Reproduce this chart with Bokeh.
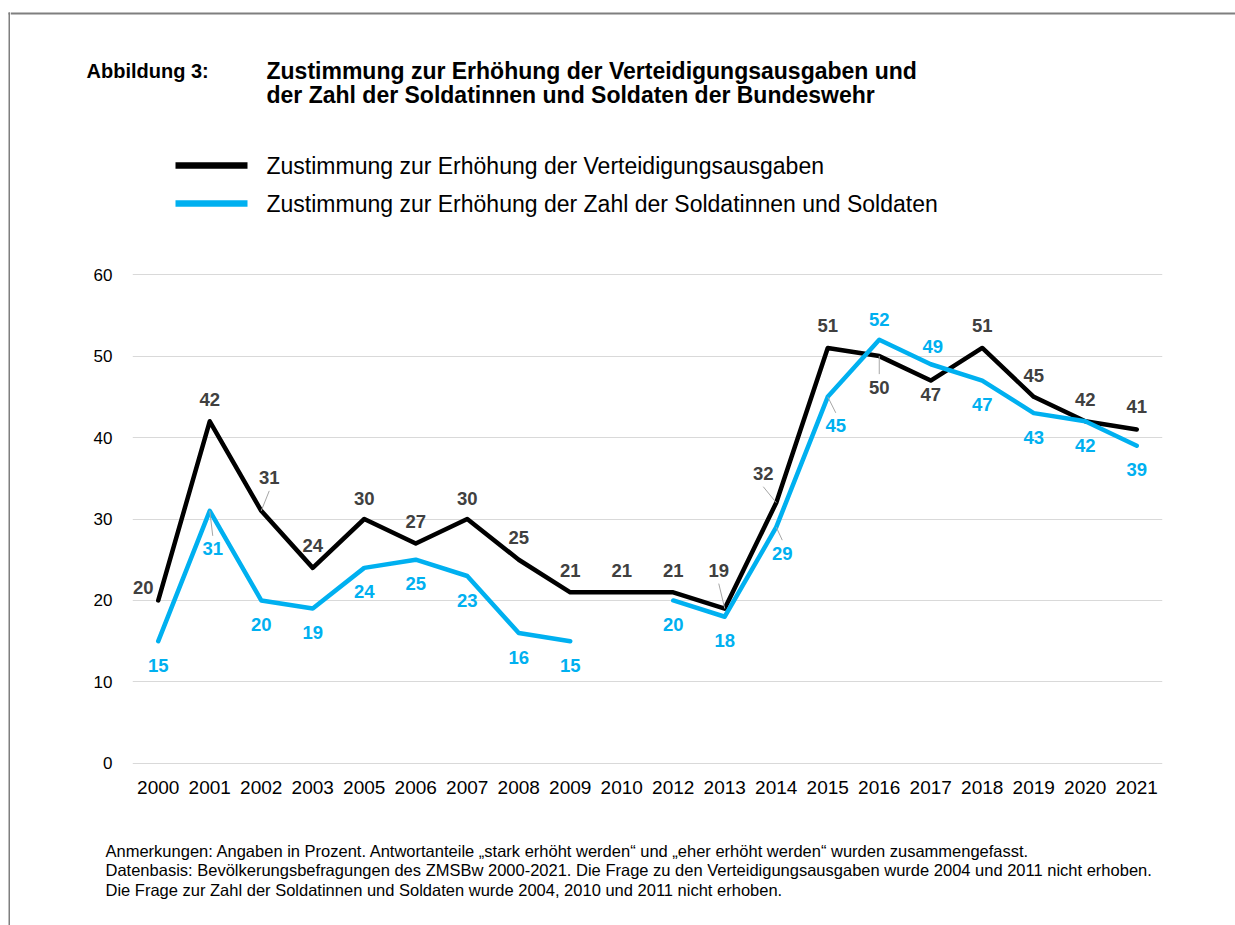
import math
from bokeh.plotting import figure
from bokeh.layouts import row, column
from bokeh.models import ColumnDataSource, FactorRange, Range1d, FixedTicker
from bokeh.core.properties import value
from bokeh.embed import file_html
from bokeh.resources import INLINE

# ---------------- data ----------------
years = ["2000", "2001", "2002", "2003", "2005", "2006", "2007", "2008", "2009", "2010",
         "2012", "2013", "2014", "2015", "2016", "2017", "2018", "2019", "2020", "2021"]
ausgaben = [20, 42, 31, 24, 30, 27, 30, 25, 21, 21, 21, 19, 32, 51, 50, 47, 51, 45, 42, 41]
soldaten = [15, 31, 20, 19, 24, 25, 23, 16, 15, float("nan"), 20, 18, 29, 45, 52, 49, 47, 43, 42, 39]
y_ticks = [0, 10, 20, 30, 40, 50, 60]

fig_label = "Abbildung 3:"
title_lines = ["Zustimmung zur Erhöhung der Verteidigungsausgaben und",
               "der Zahl der Soldatinnen und Soldaten der Bundeswehr"]
series_names = ["Zustimmung zur Erhöhung der Verteidigungsausgaben",
                "Zustimmung zur Erhöhung der Zahl der Soldatinnen und Soldaten"]
notes = [
    "Anmerkungen: Angaben in Prozent. Antwortanteile \u201estark erhöht werden\u201c und \u201eeher erhöht werden\u201c wurden zusammengefasst.",
    "Datenbasis: Bevölkerungsbefragungen des ZMSBw 2000-2021. Die Frage zu den Verteidigungsausgaben wurde 2004 und 2011 nicht erhoben.",
    "Die Frage zur Zahl der Soldatinnen und Soldaten wurde 2004, 2010 und 2011 nicht erhoben.",
]

# ---------------- label placement (style, pixels; dy positive = up) ----------------
black_dx = [-15, 0, 8, 0, 0, 0, 0, 0, 0, 0, 0, -6, -13, 0, 0, 0, 0, 0, 0, 0]
black_dy = [13, 22, 33, 22, 21, 22, 21, 22, 22, 22, 22, 38, 29, 22, -31, -14, 22, 21, 22, 23]
black_leader = [0, 0, 1, 0, 0, 0, 0, 0, 0, 0, 0, 1, 1, 0, 1, 0, 0, 0, 0, 0]
blue_dx = [0, 3, 0, 0, 0, 0, 0, 0, 0, 0, 0, 0, 6, 8, 0, 2, 0, 0, 0, 0]
blue_dy = [-24, -38, -24, -24, -24, -24, -24, -24, -24, 0, -24, -24, -26, -29, 20, 18, -24, -24, -24, -24]
blue_leader = [0, 1, 0, 0, 0, 0, 0, 0, 0, 0, 0, 0, 1, 1, 0, 0, 0, 0, 0, 0]

BLACK = "#000000"
BLUE = "#00B0F0"
FRAME = "#7f7f7f"
FONT = "Liberation Sans"

STRIP_W = 10
W = 1235 - STRIP_W
HEAD_H, CHART_H, FOOT_H = 250, 570, 105


def canvas_fig(w, h, x0, y0):
    """Figure whose frame fills the canvas; data units = page pixels."""
    f = figure(width=w, height=h, x_range=Range1d(x0, x0 + w), y_range=Range1d(y0 + h, y0),
               output_backend="svg", toolbar_location=None, min_border=0, title=None,
               x_axis_location=None, y_axis_location=None)
    f.grid.visible = False
    f.outline_line_color = None
    f.background_fill_color = "white"
    f.border_fill_color = "white"
    return f


# ---------------- left frame strip ----------------
strip = canvas_fig(STRIP_W, 925, 0, 0)
strip.segment(x0=[9], y0=[12], x1=[9], y1=[925], line_color=FRAME, line_width=2)
strip.segment(x0=[8], y0=[13], x1=[10], y1=[13], line_color=FRAME, line_width=2)

# ---------------- header: title + legend ----------------
head = canvas_fig(W, HEAD_H, STRIP_W, 0)
head.segment(x0=[STRIP_W], y0=[13], x1=[1235], y1=[13], line_color=FRAME, line_width=2)
head.text(x=[86], y=[70.5], text=[fig_label], text_font=value(FONT), text_font_size="20px",
          text_font_style="bold", text_color="#000000", text_baseline="middle")
head.text(x=[266, 266], y=[70.5, 94.5], text=title_lines, text_font=value(FONT),
          text_font_size="23px", text_font_style="bold", text_color="#000000",
          text_baseline="middle")
# legend: sample lines + labels
head.segment(x0=[175, 175], y0=[165, 203], x1=[247, 247], y1=[165, 203],
             line_color=[BLACK, BLUE], line_width=6.5)
head.text(x=[266, 266], y=[165.5, 203.5], text=series_names, text_font=value(FONT),
          text_font_size="23px", text_color="#000000", text_baseline="middle")

# ---------------- chart ----------------
ML, MR, MT, MB = 122, 73, 16, 49
p = figure(width=W, height=CHART_H, title=None,
           x_range=FactorRange(factors=years, range_padding=0, factor_padding=0),
           y_range=Range1d(-1, 61),
           output_backend="svg", toolbar_location=None,
           min_border_left=ML, min_border_right=MR, min_border_top=MT, min_border_bottom=MB)
p.outline_line_color = None
p.background_fill_color = "white"
p.border_fill_color = "white"

p.xgrid.visible = False
p.ygrid.grid_line_color = "#d9d9d9"
p.ygrid.grid_line_width = 1
p.yaxis.ticker = FixedTicker(ticks=y_ticks)
p.ygrid.ticker = FixedTicker(ticks=y_ticks)

for ax in (p.xaxis[0], p.yaxis[0]):
    ax.axis_line_color = None
    ax.major_tick_line_color = None
    ax.minor_tick_line_color = None
    ax.major_label_text_font = FONT
    ax.major_label_text_color = "#000000"
p.xaxis.major_label_text_font_size = "19px"
p.xaxis.major_label_standoff = 3
p.yaxis.major_label_text_font_size = "17px"
p.yaxis.major_label_standoff = 14

px_per_cat = (W - ML - MR) / len(years)
px_per_val = (CHART_H - MT - MB) / (p.y_range.end - p.y_range.start)

r1 = p.line(x=years, y=ausgaben, line_color=BLACK, line_width=4.5,
            line_join="round", line_cap="round")
r2 = p.line(x=years, y=soldaten, line_color=BLUE, line_width=4.5,
            line_join="round", line_cap="round")


def add_labels(vals, dxs, dys, leaders, color):
    xs, ys, txt, xo, yo = [], [], [], [], []
    lx0, ly0, lx1, ly1 = [], [], [], []
    for i, v in enumerate(vals):
        if v is None or (isinstance(v, float) and math.isnan(v)):
            continue
        xs.append(years[i]); ys.append(v); txt.append(str(int(v)))
        xo.append(dxs[i]); yo.append(-dys[i])
        if leaders[i]:
            endy = dys[i] - 13 if dys[i] > 0 else dys[i] + 13
            lx0.append(i + 0.5); ly0.append(v)
            lx1.append(i + 0.5 + dxs[i] / px_per_cat); ly1.append(v + endy / px_per_val)
    if lx0:
        p.segment(x0=lx0, y0=ly0, x1=lx1, y1=ly1, line_color="#a6a6a6", line_width=1)
    src = ColumnDataSource(dict(x=xs, y=ys, text=txt, xo=xo, yo=yo))
    p.text(x="x", y="y", text="text", x_offset="xo", y_offset="yo", source=src,
           text_font=value(FONT), text_font_size="18.5px", text_font_style="bold",
           text_color=color, text_align="center", text_baseline="middle")


add_labels(ausgaben, black_dx, black_dy, black_leader, "#404040")
add_labels(soldaten, blue_dx, blue_dy, blue_leader, BLUE)

# ---------------- footer: notes ----------------
foot = canvas_fig(W, FOOT_H, STRIP_W, HEAD_H + CHART_H)
foot.text(x=[105, 105, 105], y=[850, 869.5, 889], text=notes, text_font=value(FONT),
          text_font_size="16.5px", text_color="#000000", text_baseline="middle")

layout = row(strip, column(row(head, spacing=0), p, row(foot, spacing=0), spacing=0), spacing=0)
open("out.html", "w").write(file_html(layout, INLINE))
